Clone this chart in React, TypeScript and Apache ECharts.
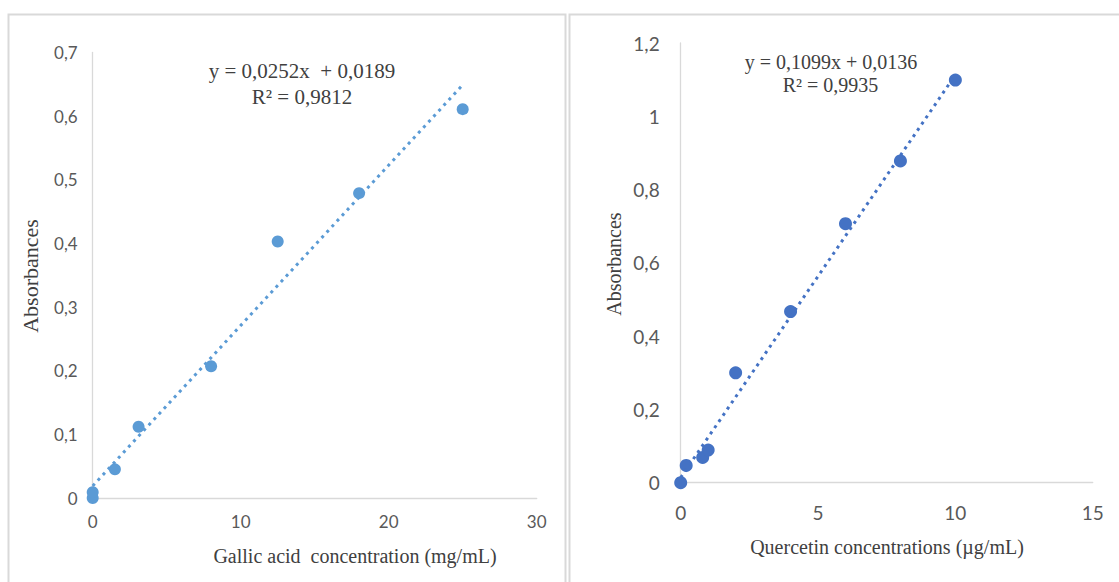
import React, { useEffect, useRef } from "react";
import * as echarts from "echarts";

// Left panel: Gallic acid calibration
const gallicX = [0, 0, 1.5, 3.1, 8, 12.5, 18, 25];
const gallicY = [0, 0.009, 0.045, 0.112, 0.207, 0.403, 0.479, 0.611];
const gallicTrend = [
  [0, 0.019],
  [25, 0.649],
];
const gallicEq = ["y = 0,0252x  + 0,0189", "R² = 0,9812"];

// Right panel: Quercetin calibration
const quercetinX = [0, 0.2, 0.8, 1, 2, 4, 6, 8, 10];
const quercetinY = [0, 0.047, 0.069, 0.089, 0.3, 0.467, 0.707, 0.878, 1.099];
const quercetinTrend = [
  [0, 0.014],
  [10, 1.113],
];
const quercetinEq = ["y = 0,1099x + 0,0136", "R² = 0,9935"];

const leftXTitle = "Gallic acid  concentration (mg/mL)";
const rightXTitle = "Quercetin concentrations (µg/mL)";
const yTitle = "Absorbances";

const fmt = (v: number) => String(Math.round(v * 10) / 10).replace(".", ",");

export default function App() {
  const ref = useRef<HTMLDivElement>(null);
  useEffect(() => {
    if (!ref.current) return;
    const chart = echarts.init(ref.current, null, { renderer: "svg" });
    const axisLine = { show: true, lineStyle: { color: "#d9d9d9", width: 1.3 } };
    const serif = "Liberation Serif";
    const txt = "#404040";
    const option: any = {
      animation: false,
      backgroundColor: "#ffffff",
      grid: [
        { left: 92.7, top: 52.5, width: 444, height: 445.5 },
        { left: 680.7, top: 43, width: 412, height: 439.7 },
      ],
      xAxis: [
        {
          type: "value", gridIndex: 0, min: 0, max: 30, interval: 10,
          axisLine, axisTick: { show: false }, splitLine: { show: false },
          axisLabel: { color: "#595959", fontFamily: "Lato", fontSize: 17, margin: 15, formatter: fmt },
        },
        {
          type: "value", gridIndex: 1, min: 0, max: 15, interval: 5,
          axisLine, axisTick: { show: false }, splitLine: { show: false },
          axisLabel: { color: "#595959", fontFamily: "Lato", fontSize: 19, margin: 20, formatter: fmt },
        },
      ],
      yAxis: [
        {
          type: "value", gridIndex: 0, min: 0, max: 0.7, interval: 0.1,
          axisLine, axisTick: { show: false }, splitLine: { show: false },
          axisLabel: { color: "#595959", fontFamily: "Lato", fontSize: 17, margin: 15, formatter: fmt },
        },
        {
          type: "value", gridIndex: 1, min: 0, max: 1.2, interval: 0.2,
          axisLine, axisTick: { show: false }, splitLine: { show: false },
          axisLabel: { color: "#595959", fontFamily: "Lato", fontSize: 19, margin: 21, formatter: fmt },
        },
      ],
      series: [
        {
          type: "line", xAxisIndex: 0, yAxisIndex: 0, data: gallicTrend,
          showSymbol: false, silent: true,
          lineStyle: { color: "#5B9BD5", width: 3, type: [3, 4.5] },
        },
        {
          type: "scatter", xAxisIndex: 0, yAxisIndex: 0, symbolSize: 12,
          itemStyle: { color: "#5B9BD5", opacity: 1 },
          data: gallicX.map((x, i) => [x, gallicY[i]]),
        },
        {
          type: "line", xAxisIndex: 1, yAxisIndex: 1, data: quercetinTrend,
          showSymbol: false, silent: true,
          lineStyle: { color: "#4472C4", width: 3, type: [3, 4.5] },
        },
        {
          type: "scatter", xAxisIndex: 1, yAxisIndex: 1, symbolSize: 13,
          itemStyle: { color: "#4472C4", opacity: 1 },
          data: quercetinX.map((x, i) => [x, quercetinY[i]]),
        },
      ],
      graphic: [
        { type: "rect", shape: { x: 8.5, y: 14.5, width: 557, height: 600 }, style: { fill: "none", stroke: "#d9d9d9", lineWidth: 2 }, z: -1 },
        { type: "rect", shape: { x: 569.5, y: 14.5, width: 600, height: 600 }, style: { fill: "none", stroke: "#d9d9d9", lineWidth: 2 }, z: -1 },
        { type: "text", x: 302, y: 70.5, style: { text: gallicEq[0], font: `21px '${serif}'`, fill: txt, textAlign: "center", textVerticalAlign: "middle" } },
        { type: "text", x: 302, y: 96.5, style: { text: gallicEq[1], font: `21px '${serif}'`, fill: txt, textAlign: "center", textVerticalAlign: "middle" } },
        { type: "text", x: 831, y: 61.5, style: { text: quercetinEq[0], font: `20px '${serif}'`, fill: txt, textAlign: "center", textVerticalAlign: "middle" } },
        { type: "text", x: 830.5, y: 85, style: { text: quercetinEq[1], font: `20px '${serif}'`, fill: txt, textAlign: "center", textVerticalAlign: "middle" } },
        { type: "text", x: 355, y: 555.5, style: { text: leftXTitle, font: `20px '${serif}'`, fill: txt, textAlign: "center", textVerticalAlign: "middle" } },
        { type: "text", x: 887, y: 547, style: { text: rightXTitle, font: `20px '${serif}'`, fill: txt, textAlign: "center", textVerticalAlign: "middle" } },
        { type: "text", x: 30, y: 276, rotation: Math.PI / 2, style: { text: yTitle, font: `22px '${serif}'`, fill: txt, textAlign: "center", textVerticalAlign: "middle" } },
        { type: "text", x: 614, y: 264, rotation: Math.PI / 2, style: { text: yTitle, font: `20px '${serif}'`, fill: txt, textAlign: "center", textVerticalAlign: "middle" } },
      ],
    };
    chart.setOption(option);
    return () => chart.dispose();
  }, []);
  return (
    <div
      ref={ref}
      style={{ position: "fixed", left: 0, top: 0, width: 1119, height: 582, background: "#fff" }}
    />
  );
}
